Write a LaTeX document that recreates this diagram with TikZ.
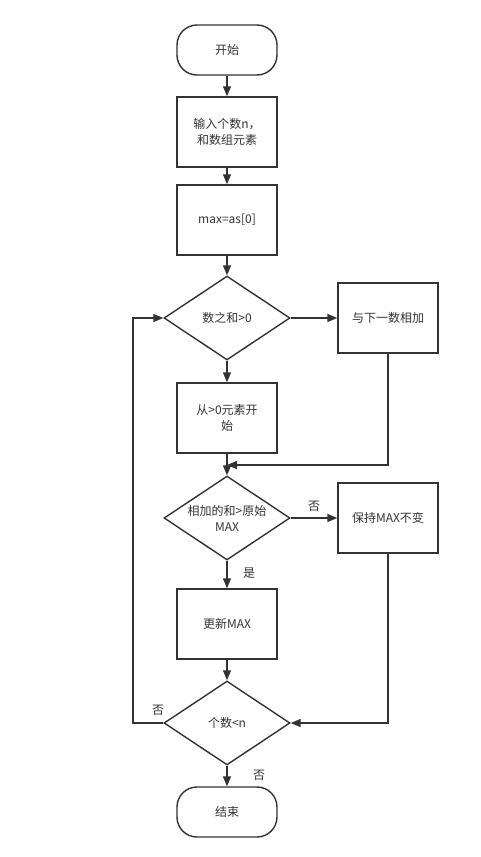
\documentclass[tikz,border=0pt]{standalone}
\usepackage{fontspec}
\setmainfont{Noto Sans CJK SC}
\usetikzlibrary{arrows.meta, shapes.geometric, positioning}

\definecolor{linegray}{HTML}{333333}

\tikzset{
  flow/.style={draw=linegray, line width=1.4pt, text=linegray, font=\fontsize{12}{16}\selectfont, align=center},
  terminal/.style={flow, rectangle, rounded corners=20pt, minimum width=100pt, minimum height=50pt},
  process/.style={flow, rectangle, minimum width=100pt, minimum height=70pt},
  decision/.style={flow, diamond, aspect=1.5, minimum width=126pt, minimum height=84pt, inner sep=0pt},
  line/.style={draw=linegray, line width=1.4pt, -{Triangle[length=10pt,width=8pt]}},
  note/.style={text=linegray, font=\fontsize{12}{14}\selectfont}
}

\begin{document}
\begin{tikzpicture}[x=1pt, y=-1pt]
\useasboundingbox (0,0) rectangle (481,857);
% Main column
\node[terminal] (start) at (227,50) {开始};
\node[process] (input) at (227,132) {输入个数n，\\和数组元素};
\node[process] (init) at (227,220) {max=as[0]};
\node[decision] (sumpos) at (227,318) {数之和>0};
\node[process] (from) at (227,418) {从>0元素开\\始};
\node[decision] (bigger) at (227,518) {相加的和>原始\\MAX};
\node[process] (update) at (227,624) {更新MAX};
\node[decision] (count) at (227,723) {个数<n};
\node[terminal] (stop) at (227,812) {结束};
%
% Right column
\node[process] (addnext) at (388,318) {与下一数相加};
\node[process] (keep) at (388,518) {保持MAX不变};
%
% Helper points
\coordinate (merge) at (227,465);
\coordinate (loopleft) at (133,723);
%
% Connectors
\draw[line] (start) -- (input);
\draw[line] (input) -- (init);
\draw[line] (init) -- (sumpos);
\draw[line] (sumpos) -- (from);
\draw[line] (sumpos) -- (addnext);
\draw[line] (from) -- (bigger);
\draw[line] (addnext.south) |- (merge);
\draw[line] (bigger) -- (keep) node[note, pos=0.5, above=3pt] {否};
\draw[line] (bigger) -- (update) node[note, pos=0.45, right=12pt] {是};
\draw[line] (update) -- (count);
\draw[line] (keep.south) |- (count.east);
\draw[line] (count.west) -- (loopleft) |- (sumpos.west);
\draw[line] (count) -- (stop) node[note, pos=0.45, right=22pt] {否};
\node[note] (nolabel) at (158,710) {否};
\end{tikzpicture}
\end{document}
